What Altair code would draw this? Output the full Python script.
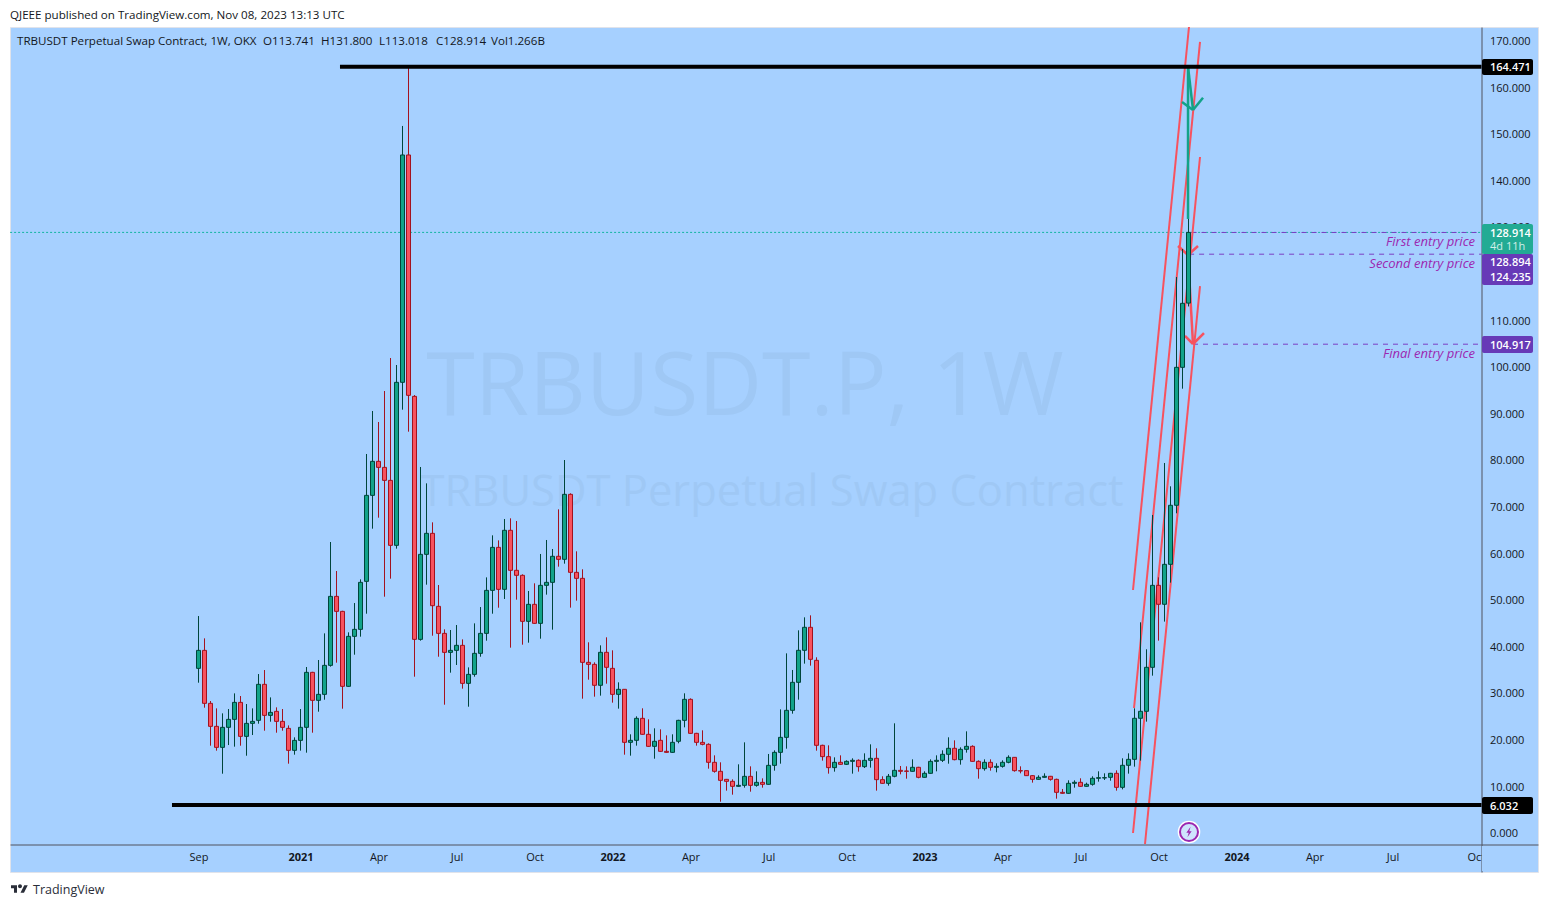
import altair as alt
import pandas as pd

# weekly candles
opens = [35.34, 39.20, 27.83, 22.89, 18.38, 22.68, 24.39, 28.04, 20.74, 23.53,
         24.18, 31.91, 25.25, 26.11, 23.96, 22.46, 17.74, 19.88, 22.68, 34.48,
         28.47, 29.76, 35.98, 50.79, 47.57, 31.48, 42.21, 43.71, 54.01, 72.47,
         79.77, 78.48, 75.69, 61.74, 96.73, 145.53, 93.72, 41.56, 59.81, 64.32,
         48.65, 42.85, 38.77, 39.20, 40.28, 32.12, 34.05, 38.56, 42.85, 52.08,
         61.31, 52.30, 64.97, 56.38, 55.31, 45.43, 49.08, 45.00, 53.16, 53.80,
         59.39, 58.74, 72.69, 55.95, 54.66, 36.63, 36.20, 31.70, 38.78, 35.34,
         29.76, 30.84, 19.46, 19.89, 24.61, 21.18, 18.60, 19.89, 17.53, 17.31,
         19.68, 24.18, 28.69, 21.39, 19.46, 19.03, 15.17, 13.24, 11.52, 11.09,
         10.02, 10.23, 12.16, 10.23, 10.87, 10.45, 14.52, 17.31, 20.53, 26.33,
         32.34, 39.21, 44.15, 37.06, 18.82, 16.39, 14.03, 15.17, 14.74, 15.38,
         15.60, 14.24, 15.60, 16.03, 11.45, 10.66, 12.17, 13.45, 13.31, 13.24,
         14.10, 11.95, 12.81, 15.38, 15.60, 16.89, 18.18, 15.74, 17.96, 18.60,
         15.38, 13.81, 15.17, 14.10, 14.31, 15.17, 16.24, 13.38, 13.38, 12.31,
         11.52, 11.95, 12.17, 11.52, 8.73, 8.52, 10.66, 10.88, 10.02, 10.45,
         11.74, 11.81, 11.95, 12.81, 9.80, 14.53, 15.81, 24.62, 26.12, 35.56,
         53.16, 49.09, 57.67, 70.34, 99.95, 113.741]
highs = [46.57, 41.78, 28.33, 26.75, 25.68, 26.61, 29.97, 29.40, 27.68, 26.75,
         34.12, 34.98, 29.11, 26.97, 26.61, 23.10, 20.53, 26.61, 35.63, 34.60,
         37.13, 42.85, 62.46, 56.23, 47.70, 43.07, 49.36, 54.44, 81.35, 90.58,
         88.22, 94.87, 101.95, 100.45, 151.76, 164.47, 94.00, 78.56, 75.05, 66.68,
         53.23, 43.71, 43.57, 44.64, 41.56, 35.55, 45.00, 48.50, 54.87, 63.89,
         62.81, 67.40, 67.54, 66.97, 55.52, 51.94, 53.59, 59.89, 62.89, 60.96,
         69.47, 80.06, 72.91, 60.46, 56.60, 40.93, 36.63, 40.28, 42.00, 39.21,
         32.34, 30.90, 21.18, 25.04, 26.76, 24.40, 22.47, 22.25, 20.96, 21.18,
         24.30, 29.98, 28.90, 21.50, 22.04, 19.25, 16.67, 15.17, 11.60, 11.52,
         14.74, 19.46, 14.31, 13.24, 11.73, 16.96, 17.74, 26.54, 38.56, 34.99,
         43.50, 46.29, 46.72, 37.71, 18.95, 18.82, 16.24, 16.67, 15.60, 16.03,
         15.81, 17.10, 19.03, 18.18, 12.17, 12.67, 23.54, 14.38, 14.31, 15.81,
         14.20, 13.24, 15.81, 16.67, 17.75, 20.54, 19.89, 18.39, 21.82, 18.82,
         15.60, 15.81, 15.81, 14.96, 15.60, 16.67, 16.30, 14.31, 13.40, 12.40,
         12.38, 12.81, 12.25, 11.66, 9.45, 11.31, 11.31, 11.74, 10.80, 12.17,
         13.24, 12.81, 12.90, 13.45, 16.03, 17.10, 26.76, 45.22, 39.43, 68.26,
         54.88, 79.42, 74.41, 119.34, 125.35, 131.800]
lows = [32.26, 26.90, 18.74, 17.67, 12.73, 18.88, 18.53, 18.74, 16.59, 21.03,
        23.46, 21.96, 23.89, 21.53, 21.96, 14.88, 16.81, 17.67, 17.24, 21.53,
        26.04, 28.61, 35.70, 36.56, 26.68, 31.40, 38.27, 42.14, 47.07, 65.32,
        67.68, 50.72, 54.59, 61.03, 90.86, 86.14, 33.55, 41.28, 53.30, 42.35,
        37.84, 27.54, 34.41, 36.06, 30.98, 27.11, 33.55, 37.84, 41.28, 47.07,
        48.36, 50.23, 39.78, 50.08, 40.42, 40.85, 44.90, 41.71, 51.16, 43.64,
        57.17, 57.81, 48.37, 49.87, 28.83, 32.91, 29.26, 29.48, 32.05, 27.98,
        26.69, 16.81, 16.60, 18.75, 21.10, 18.50, 15.95, 17.40, 17.20, 17.20,
        19.25, 22.68, 21.30, 18.75, 18.82, 13.81, 12.95, 6.72, 9.09, 8.23,
        9.95, 9.73, 8.87, 9.94, 9.73, 10.40, 13.38, 14.88, 18.10, 25.61,
        28.62, 36.35, 35.92, 17.67, 15.53, 12.74, 13.17, 14.65, 14.60, 12.74,
        13.17, 13.95, 14.03, 9.09, 10.60, 10.16, 11.95, 12.59, 11.66, 13.20,
        11.74, 11.90, 12.75, 13.24, 15.24, 14.88, 15.60, 14.67, 17.25, 15.30,
        11.66, 13.38, 13.38, 13.02, 14.03, 14.96, 13.17, 12.81, 12.25, 10.81,
        11.45, 11.88, 11.23, 7.37, 8.45, 8.45, 9.73, 9.95, 9.95, 10.16,
        11.02, 11.38, 11.23, 9.09, 9.37, 12.74, 14.24, 15.53, 23.90, 33.77,
        41.29, 45.37, 53.74, 68.62, 95.37, 113.018]
closes = [39.20, 27.83, 22.89, 18.38, 22.68, 24.39, 28.04, 20.74, 23.53, 23.96,
          31.91, 25.25, 25.89, 23.96, 22.68, 17.74, 19.88, 22.68, 34.48, 28.47,
          29.76, 35.98, 50.79, 47.57, 31.48, 42.21, 43.71, 53.80, 72.47, 79.77,
          78.48, 75.69, 61.74, 96.73, 145.53, 93.94, 41.56, 59.81, 64.32, 48.79,
          42.85, 38.77, 39.20, 40.28, 32.12, 34.05, 38.56, 42.85, 52.08, 61.31,
          52.30, 64.97, 56.38, 55.31, 45.43, 49.08, 45.00, 53.16, 53.80, 59.39,
          58.74, 72.69, 55.95, 54.66, 36.63, 36.20, 31.70, 38.78, 35.56, 29.76,
          30.84, 19.46, 19.89, 24.61, 21.18, 18.60, 19.68, 17.53, 17.31, 19.46,
          24.18, 28.69, 21.39, 19.46, 19.03, 15.17, 13.24, 11.30, 11.09, 10.02,
          10.23, 12.16, 10.23, 10.87, 10.45, 14.52, 17.31, 20.53, 26.33, 32.34,
          39.21, 44.15, 37.28, 18.82, 16.39, 14.03, 15.17, 14.74, 15.38, 15.60,
          14.24, 15.60, 16.03, 11.45, 10.66, 12.17, 13.45, 13.24, 13.24, 14.10,
          11.95, 12.81, 15.38, 15.60, 16.89, 18.18, 15.74, 17.96, 18.60, 15.38,
          13.81, 15.17, 14.10, 14.31, 15.17, 16.24, 13.38, 13.31, 12.31, 11.52,
          11.95, 12.17, 11.52, 8.73, 8.52, 10.66, 10.88, 10.02, 10.45, 11.74,
          11.88, 11.88, 12.81, 9.80, 14.53, 15.81, 24.62, 26.12, 35.56, 53.16,
          49.09, 57.67, 70.34, 99.95, 113.69, 128.914]

# axis ticks (week number since the first candle)
x_ticks = [0, 17, 30, 43, 56, 69, 82, 95, 108, 121, 134, 147, 160, 173, 186, 199, 212.9]
x_tick_labels = ['Sep', '2021', 'Apr', 'Jul', 'Oct', '2022', 'Apr', 'Jul', 'Oct', '2023',
                 'Apr', 'Jul', 'Oct', '2024', 'Apr', 'Jul', 'Oct']
y_ticks = list(range(0, 180, 10))

# drawings: red trend lines, green and red arrows (week, price)
trend_w0 = [155.75, 155.92, 155.75, 157.75]
trend_p0 = [52.16, 26.83, 0.0, -2.36]
trend_w1 = [165.08, 166.92, 166.92, 166.92]
trend_p1 = [173.0, 169.8, 145.1, 117.4]

green_w0 = [164.92, 164.92, 163.92, 167.42]
green_p0 = [164.47, 164.47, 156.9, 157.8]
green_w1 = [164.92, 165.75, 165.75, 165.75]
green_p1 = [131.8, 155.2, 155.2, 155.2]

red_w0 = [163.25, 166.58, 164.92, 164.42, 167.58]
red_p0 = [126.0, 126.0, 124.07, 106.68, 107.3]
red_w1 = [164.92, 164.92, 165.75, 165.75, 165.75]
red_p1 = [124.07, 124.07, 104.96, 104.96, 104.96]

# support / resistance and entry levels
black_levels = [164.471, 6.032]
black_start = [23.58, -4.42]
entry_levels = [128.894, 124.235, 104.917]
entry_start = [165.5, 165.1, 165.75]
last_price = 128.914
axis_end = 213.83

# price tags on the scale and other page furniture, in plot pixels
tag_top = [32, 197, 227, 309, 770]
tag_bottom = [48, 227, 258, 326, 787]
tag_fill = ['#000000', '#22ab94', '#673ab7', '#673ab7', '#000000']
tag_text = ['164.471', '128.914', '128.894', '124.235', '104.917', '6.032']
tag_text_y = [40, 206, 235, 250, 317.5, 779]
entry_text = ['First entry price', 'Second entry price', 'Final entry price']
entry_text_y = [214, 236, 326]
legend_text = ['TRBUSDT Perpetual Swap Contract, 1W, OKX', 'O113.741', 'H131.800', 'L113.018', 'C128.914', 'Vol1.266B']
legend_x = [7, 253, 311, 369, 426, 481]

FONT = 'Open Sans'
BG = '#A6D0FF'
TXT = '#131722'

x_scale = alt.Scale(domain=[-31.4167, 223.25], nice=False, zero=False, padding=0)
y_scale = alt.Scale(domain=[-8.371, 173.0], nice=False, zero=False, padding=0)

label_expr = "[" + ",".join(f"'{t}'" for t in x_tick_labels) + "][indexof([" + ",".join(str(t) for t in x_ticks) + "],datum.value)]"
x_axis = alt.Axis(values=x_ticks, labelExpr=label_expr, title=None, grid=False, ticks=False, offset=-27.5,
                  domainColor='#50535e', labelColor=TXT, labelFontSize=11, labelFont=FONT, labelPadding=7,
                  labelOverlap=False, labelFlush=False,
                  labelFontWeight={"condition": {"test": "datum.value==17||datum.value==69||datum.value==121||datum.value==173", "value": 700}, "value": 400})
y_axis = alt.Axis(values=y_ticks, orient='right', format='.3f', title=None, grid=False, ticks=False, offset=-56.5,
                  domainColor='#50535e', labelColor=TXT, labelFontSize=11, labelFont=FONT, labelPadding=8,
                  labelOverlap=False, labelOffset=0.6)


def wx(field):
    return alt.X(f'{field}:Q', scale=x_scale, axis=x_axis)


def wy(field):
    return alt.Y(f'{field}:Q', scale=y_scale, axis=y_axis)


def segments(w0, p0, w1, p1, color, width=2):
    df = pd.DataFrame({'w0': w0, 'p0': p0, 'w1': w1, 'p1': p1})
    return alt.Chart(df).mark_rule(color=color, strokeWidth=width).encode(
        x=wx('w0'), y=wy('p0'), x2='w1:Q', y2='p1:Q')


def label(texts, xs, ys, **style):
    df = pd.DataFrame({'t': texts, 'px': xs, 'py': ys})
    style.setdefault('font', FONT)
    style.setdefault('baseline', 'middle')
    style.setdefault('align', 'left')
    style.setdefault('dy', 1)
    return alt.Chart(df).mark_text(**style).encode(
        x=alt.X('px:Q', scale=None), y=alt.Y('py:Q', scale=None), text='t:N')


def symbol(px, py, **style):
    df = pd.DataFrame({'px': [px], 'py': [py]})
    return alt.Chart(df).mark_point(**style).encode(
        x=alt.X('px:Q', scale=None), y=alt.Y('py:Q', scale=None))


df = pd.DataFrame({'week': range(len(opens)), 'open': opens, 'high': highs, 'low': lows, 'close': closes})
df['dir'] = ['up' if c >= o else 'down' for o, c in zip(opens, closes)]

fill_scale = alt.Scale(domain=['up', 'down'], range=['#12a389', '#f7525f'])
line_scale = alt.Scale(domain=['up', 'down'], range=['#00453a', '#a3121f'])

wicks = alt.Chart(df).mark_rule(strokeWidth=1).encode(
    x=wx('week'), y=wy('low'), y2='high:Q',
    color=alt.Color('dir:N', scale=line_scale, legend=None))
bodies = alt.Chart(df).mark_bar(size=4, strokeWidth=1).encode(
    x=wx('week'), y=wy('open'), y2='close:Q',
    fill=alt.Fill('dir:N', scale=fill_scale, legend=None),
    stroke=alt.Stroke('dir:N', scale=line_scale, legend=None))

black_df = pd.DataFrame({'p': black_levels, 'w0': black_start, 'w1': [axis_end] * 2})
black_lines = alt.Chart(black_df).mark_rule(color='#000000', strokeWidth=4).encode(
    x=wx('w0'), x2='w1:Q', y=wy('p'))

last_df = pd.DataFrame({'p': [last_price], 'w0': [-31.4], 'w1': [axis_end]})
last_line = alt.Chart(last_df).mark_rule(color='#12b5a0', strokeWidth=1, strokeDash=[2, 2]).encode(
    x=wx('w0'), x2='w1:Q', y=wy('p'))

entry_df = pd.DataFrame({'p': entry_levels, 'w0': entry_start, 'w1': [axis_end] * 3})
entry_lines = alt.Chart(entry_df).mark_rule(color='#7b3fc4', strokeWidth=1, strokeDash=[5, 5]).encode(
    x=wx('w0'), x2='w1:Q', y=wy('p'))

tags_df = pd.DataFrame({'top': tag_top, 'bottom': tag_bottom, 'fill': tag_fill, 'x0': [1472] * 5, 'x1': [1523] * 5})
tags = alt.Chart(tags_df).mark_rect(cornerRadius=2).encode(
    x=alt.X('x0:Q', scale=None), x2='x1:Q',
    y=alt.Y('top:Q', scale=None), y2='bottom:Q',
    fill=alt.Fill('fill:N', scale=None, legend=None))

# hides the end of the last date label, which runs under the price scale
scale_mask = alt.Chart(pd.DataFrame({'x0': [1472], 'x1': [1527], 'y0': [819], 'y1': [844]})).mark_rect(color=BG).encode(
    x=alt.X('x0:Q', scale=None), x2='x1:Q', y=alt.Y('y0:Q', scale=None), y2='y1:Q')

BOLT = 'M0.3,-1 L-0.5,0.15 L-0.05,0.15 L-0.3,1 L0.5,-0.15 L0.05,-0.15 Z'
TV_LOGO = ('M-0.222,-0.417 H-0.889 V-0.083 H-0.556 V0.417 H-0.222 Z '
           'M0.556,0.417 H0.167 L0.583,-0.417 H0.972 Z '
           'M0.333,-0.306 A0.222,0.222 0 1 1 -0.111,-0.306 A0.222,0.222 0 1 1 0.333,-0.306 Z')

chart = alt.layer(
    label(['TRBUSDT.P, 1W'], [735], [361], fontSize=88, align='center', color='#9FC8F5'),
    label(['TRBUSDT Perpetual Swap Contract'], [762], [465], fontSize=43.5, align='center', color='#9FC8F5'),
    last_line,
    entry_lines,
    segments(trend_w0, trend_p0, trend_w1, trend_p1, '#f7525f'),
    segments(red_w0, red_p0, red_w1, red_p1, '#f7525f', width=2.5),
    segments(green_w0, green_p0, green_w1, green_p1, '#12a389', width=2.5),
    wicks,
    bodies,
    black_lines,
    scale_mask,
    tags,
    label(tag_text, [1480] * 6, tag_text_y, fontSize=11, color='#ffffff', fontWeight=600),
    label(['4d 11h'], [1480], [219], fontSize=11, color='#d3efe9'),
    label(entry_text, [1465] * 3, entry_text_y, fontSize=13, fontStyle='italic', align='right', color='#9c27b0'),
    label(legend_text, legend_x, [14] * 6, fontSize=11.6, color=TXT),
    label(['QJEEE published on TradingView.com, Nov 08, 2023 13:13 UTC'], [0], [-12], fontSize=11.6, color=TXT),
    label(['TradingView'], [23], [862], fontSize=12.5, color='#2a2e39'),
    symbol(9, 862, shape=TV_LOGO, size=324, filled=True, fill='#2a2e39', opacity=1, strokeWidth=0),
    symbol(1179, 805, shape='circle', size=511, filled=True, fill='#ffffff', opacity=1, strokeWidth=0),
    symbol(1179, 805, shape='circle', size=324, filled=True, fill='#cfe4fd', stroke='#9c27b0', opacity=1, strokeWidth=2),
    symbol(1179, 805, shape=BOLT, size=113, filled=True, fill='#9c27b0', opacity=1, strokeWidth=0),
).properties(
    width=1528,
    height=845,
    autosize=alt.AutoSizeParams(type='none'),
    padding={'left': 2, 'top': 19, 'right': 2, 'bottom': 30},
    background='#ffffff',
).configure_view(fill=BG, stroke='#E0E3EB')

chart.save("out.html", embed_options={"renderer": "svg", "actions": False})
